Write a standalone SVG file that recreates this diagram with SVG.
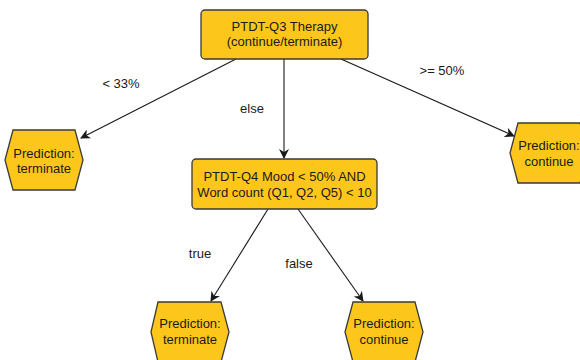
<svg xmlns="http://www.w3.org/2000/svg" width="580" height="360" viewBox="0 0 580 360">
  <defs>
    <marker id="arr" viewBox="0 0 10 10" refX="9" refY="5" markerWidth="10" markerHeight="10" markerUnits="userSpaceOnUse" orient="auto">
      <path d="M0,0 L10,5 L0,10 L3,5 z" fill="#1a1a1a"/>
    </marker>
    <style>
      .box{fill:#FCC71A;stroke:#3a3a3a;stroke-width:1.3}
      .t{font-family:"Liberation Sans",Arial,sans-serif;font-size:13px;fill:#1a1a1a;text-anchor:middle}
      .e{fill:none;stroke:#1a1a1a;stroke-width:1.1;marker-end:url(#arr)}
    </style>
  </defs>
  <rect width="580" height="360" fill="#ffffff"/>
  <g id="connectors">
    <line class="e" x1="236" y1="59" x2="81" y2="138"/>
    <line class="e" x1="284" y1="59" x2="284" y2="158"/>
    <line class="e" x1="341" y1="59" x2="514" y2="136"/>
    <line class="e" x1="268" y1="209" x2="211" y2="301"/>
    <line class="e" x1="298" y1="209" x2="363" y2="301"/>
    <text class="t" x="121" y="88">&lt; 33%</text>
    <text class="t" x="252" y="113">else</text>
    <text class="t" x="442" y="75">&gt;= 50%</text>
    <text class="t" x="200" y="258">true</text>
    <text class="t" x="299" y="268">false</text>
  </g>
  <g id="q3">
    <rect class="box" x="201" y="10" width="167" height="49" rx="4"/>
    <text class="t" x="284.5" y="31">PTDT-Q3 Therapy</text>
    <text class="t" x="284.5" y="46">(continue/terminate)</text>
  </g>
  <g id="q4">
    <rect class="box" x="192" y="159" width="185" height="50" rx="4"/>
    <text class="t" x="284.5" y="181">PTDT-Q4 Mood &lt; 50% AND</text>
    <text class="t" x="284.5" y="197">Word count (Q1, Q2, Q5) &lt; 10</text>
  </g>
  <g id="pred-left">
    <polygon class="box" points="13,130 75,130 83,160 75,190 13,190 5,160"/>
    <text class="t" x="44" y="158">Prediction:</text>
    <text class="t" x="44" y="173">terminate</text>
  </g>
  <g id="pred-right">
    <polygon class="box" points="518,123 580,123 588,153 580,183 518,183 510,153"/>
    <text class="t" x="549" y="150">Prediction:</text>
    <text class="t" x="549" y="166">continue</text>
  </g>
  <g id="pred-true">
    <polygon class="box" points="158,302 221,302 229,332 221,362 158,362 151,332"/>
    <text class="t" x="190" y="328">Prediction:</text>
    <text class="t" x="190" y="344">terminate</text>
  </g>
  <g id="pred-false">
    <polygon class="box" points="353,302 415,302 423,332 415,362 353,362 345,332"/>
    <text class="t" x="384" y="328">Prediction:</text>
    <text class="t" x="384" y="344">continue</text>
  </g>
</svg>
